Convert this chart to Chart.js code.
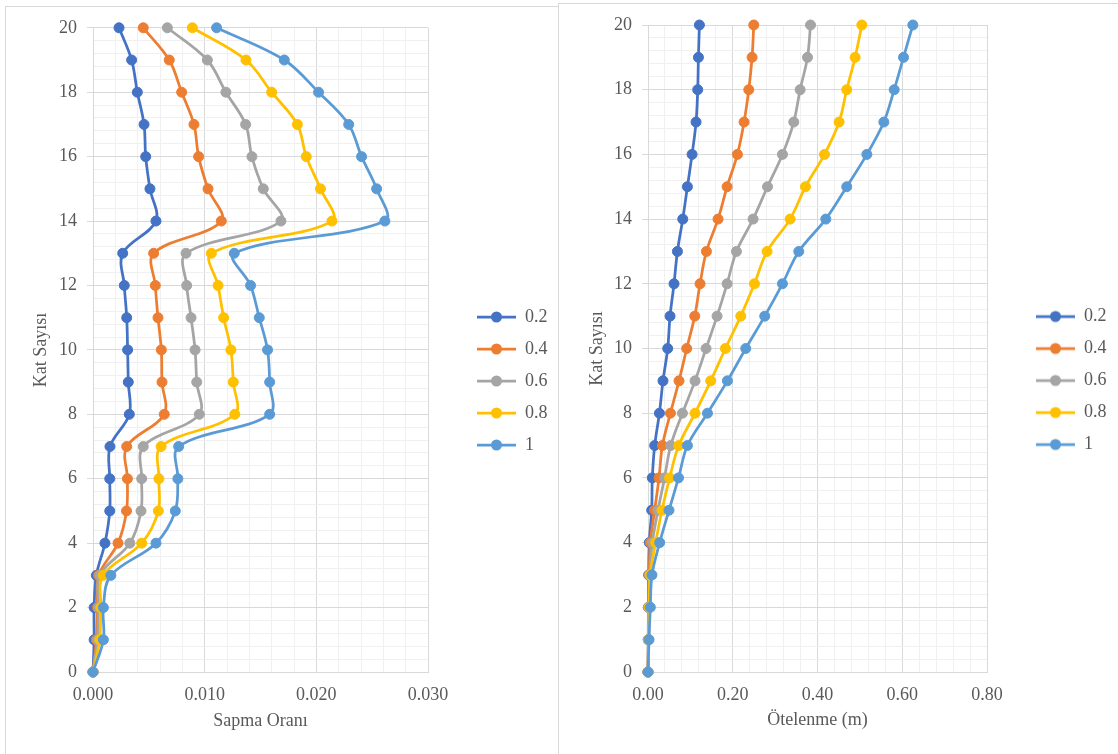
<!DOCTYPE html>
<html lang="tr">
<head>
<meta charset="utf-8">
<title>Sapma Oranı ve Ötelenme</title>
<script src="https://cdn.jsdelivr.net/npm/chart.js@4.4.1/dist/chart.umd.min.js"></script>
<style>
  html, body { margin: 0; padding: 0; background: #fff; }
  body { width: 1118px; height: 754px; position: relative; overflow: hidden; }
  .panel { position: absolute; border: 1px solid #d9d9d9; background: #fff; }
  #panelSol { left: 5px; top: 6px; width: 552px; height: 748px; }
  #panelSag { left: 558px; top: 3px; width: 560px; height: 751px; border-right: none; }
  canvas { display: block; }
</style>
</head>
<body>
<div class="panel" id="panelSol"><canvas id="grafikSapma" width="552" height="748"></canvas></div>
<div class="panel" id="panelSag"><canvas id="grafikOtelenme" width="559" height="750"></canvas></div>

<script>
// Kat numaraları (her iki grafikte y ekseni)
const katlar = [0, 1, 2, 3, 4, 5, 6, 7, 8, 9, 10, 11, 12, 13, 14, 15, 16, 17, 18, 19, 20];
const seriAdlari = ['0.2', '0.4', '0.6', '0.8', '1'];
const renkler = ['#4472C4', '#ED7D31', '#A5A5A5', '#FFC000', '#5B9BD5'];

// Sapma oranı (sol grafik), kat 0 -> 20
const sapma02 = [0, 0.0001, 0.0001, 0.0003, 0.00107, 0.0015, 0.0015, 0.00152, 0.00325, 0.00316, 0.0031, 0.00302, 0.0028, 0.00266, 0.00564, 0.0051, 0.00472, 0.00457, 0.00397, 0.00346, 0.00233];
const sapma04 = [0, 0.0003, 0.0004, 0.0005, 0.00224, 0.003, 0.00308, 0.00302, 0.00638, 0.00618, 0.00612, 0.00582, 0.00558, 0.00543, 0.01149, 0.0103, 0.00946, 0.00904, 0.00794, 0.00683, 0.0045];
const sapma06 = [0, 0.0004, 0.0005, 0.0006, 0.0033, 0.0043, 0.00436, 0.0045, 0.00952, 0.00929, 0.00914, 0.00878, 0.00839, 0.00833, 0.01683, 0.01525, 0.01423, 0.01367, 0.0119, 0.01024, 0.00666];
const sapma08 = [0, 0.0006, 0.0007, 0.0009, 0.00436, 0.00585, 0.0059, 0.0061, 0.0127, 0.01256, 0.01235, 0.0117, 0.0112, 0.0106, 0.0214, 0.02037, 0.0191, 0.0183, 0.016, 0.0137, 0.0089];
const sapma1 = [0, 0.00093, 0.00093, 0.0016, 0.00564, 0.00737, 0.0076, 0.00767, 0.01582, 0.01582, 0.01563, 0.01489, 0.01411, 0.01265, 0.02614, 0.0254, 0.02405, 0.0229, 0.0202, 0.01713, 0.01107];

// Ötelenme, m (sağ grafik), kat 0 -> 20
const otelenme02 = [0, 0.0005, 0.001, 0.0015, 0.003, 0.0087, 0.0102, 0.0158, 0.0269, 0.0354, 0.0465, 0.052, 0.0614, 0.0694, 0.082, 0.093, 0.104, 0.1134, 0.1173, 0.119, 0.1213];
const otelenme04 = [0, 0.001, 0.0015, 0.003, 0.0055, 0.0157, 0.026, 0.034, 0.0529, 0.0732, 0.0914, 0.1103, 0.1228, 0.1379, 0.1653, 0.1866, 0.211, 0.2267, 0.2378, 0.2456, 0.2496];
const otelenme06 = [0, 0.001, 0.002, 0.004, 0.0102, 0.0236, 0.039, 0.0536, 0.0812, 0.111, 0.137, 0.163, 0.1866, 0.2087, 0.248, 0.282, 0.3173, 0.344, 0.359, 0.3764, 0.3835];
const otelenme08 = [0, 0.0015, 0.003, 0.005, 0.018, 0.033, 0.051, 0.0725, 0.111, 0.148, 0.1827, 0.2189, 0.2512, 0.281, 0.3353, 0.3716, 0.4165, 0.451, 0.469, 0.4888, 0.5046];
const otelenme1 = [0, 0.0024, 0.0055, 0.0094, 0.0276, 0.0496, 0.072, 0.093, 0.1403, 0.1874, 0.2307, 0.2755, 0.3173, 0.3558, 0.4196, 0.469, 0.5165, 0.5566, 0.581, 0.603, 0.625];

// Eksen aralıkları: ana çizgi adımı ve ara (minor) çizgi adımı
const katMax = 20, katAnaAdim = 2, katAraAdim = 0.4;
const sapmaMax = 0.03, sapmaAnaAdim = 0.01, sapmaAraAdim = 0.002, sapmaBasamak = 3;
const otelenmeMax = 0.8, otelenmeAnaAdim = 0.2, otelenmeAraAdim = 0.04, otelenmeBasamak = 2;

const yazi = "'Liberation Serif', 'Times New Roman', serif";
const yaziRengi = '#595959';
const anaCizgi = '#d9d9d9';
const araCizgi = '#f0f0f0';

Chart.defaults.font.family = yazi;
Chart.defaults.color = yaziRengi;

// Değer bir ana çizgiye denk geliyor mu?
function anaMi(deger, adim) {
    const oran = deger / adim;
    return Math.abs(oran - Math.round(oran)) < 1e-6;
}

// Lejant için çizgi + nokta simgesi
function lejantSimgesi(renk) {
    const c = document.createElement('canvas');
    c.width = 74;
    c.height = 14;
    const ctx = c.getContext('2d');
    ctx.strokeStyle = renk;
    ctx.lineWidth = 2.75;
    ctx.beginPath();
    ctx.moveTo(35, 7);
    ctx.lineTo(74, 7);
    ctx.stroke();
    ctx.fillStyle = renk;
    ctx.beginPath();
    ctx.arc(54.5, 7, 5.5, 0, Math.PI * 2);
    ctx.fill();
    return c;
}
const simgeler = renkler.map(lejantSimgesi);

// Lejant kutusunun genişliğini sabitle
const lejantGenisligi = {
    id: 'lejantGenisligi',
    beforeLayout(chart, args, opts) {
        const lejant = chart.legend;
        if (lejant && !lejant._sabit) {
            const eskiFit = lejant.fit;
            lejant.fit = function () {
                eskiFit.call(this);
                this.width = opts.genislik;
            };
            lejant._sabit = true;
        }
    }
};

function veriSetleri(seriler) {
    return seriler.map((degerler, i) => ({
        label: seriAdlari[i],
        data: katlar.map((kat, j) => ({ x: degerler[j], y: kat })),
        showLine: true,
        borderColor: renkler[i],
        backgroundColor: renkler[i],
        borderWidth: 2.75,
        pointRadius: 5,
        pointBorderWidth: 1,
        pointBackgroundColor: renkler[i],
        pointBorderColor: renkler[i],
        tension: 0.35,
        clip: false,
        order: seriler.length - i
    }));
}

function grafikOlustur(id, seriler, ayar) {
    const ctx = document.getElementById(id).getContext('2d');
    return new Chart(ctx, {
        type: 'scatter',
        data: { datasets: veriSetleri(seriler) },
        plugins: [lejantGenisligi],
        options: {
            responsive: false,
            animation: false,
            devicePixelRatio: 1,
            events: [],
            layout: { padding: { left: 0, top: ayar.ust, right: ayar.sag, bottom: 18 } },
            plugins: {
                tooltip: { enabled: false },
                lejantGenisligi: { genislik: 130 },
                legend: {
                    position: 'right',
                    labels: {
                        usePointStyle: true,
                        pointStyleWidth: 74,
                        padding: 14,
                        color: yaziRengi,
                        font: { family: yazi, size: 18 },
                        sort: (a, b) => a.datasetIndex - b.datasetIndex,
                        generateLabels(chart) {
                            const ogeler = Chart.defaults.plugins.legend.labels.generateLabels(chart);
                            ogeler.forEach(o => { o.pointStyle = simgeler[o.datasetIndex]; });
                            return ogeler;
                        }
                    }
                }
            },
            scales: {
                x: {
                    type: 'linear',
                    min: 0,
                    max: ayar.xMax,
                    afterFit(scale) { scale.height = ayar.xYukseklik; },
                    ticks: {
                        stepSize: ayar.xAraAdim,
                        maxTicksLimit: 1000,
                        autoSkip: false,
                        maxRotation: 0,
                        padding: 12,
                        color: yaziRengi,
                        font: { family: yazi, size: 18 },
                        callback: v => anaMi(v, ayar.xAnaAdim) ? v.toFixed(ayar.basamak) : ''
                    },
                    grid: {
                        drawTicks: false,
                        color: c => anaMi(c.tick.value, ayar.xAnaAdim) ? anaCizgi : araCizgi
                    },
                    border: { color: anaCizgi },
                    title: {
                        display: true,
                        text: ayar.xBaslik,
                        color: yaziRengi,
                        font: { family: yazi, size: 18 },
                        padding: { top: 0, bottom: 5 }
                    }
                },
                y: {
                    type: 'linear',
                    min: 0,
                    max: katMax,
                    afterFit(scale) { scale.width = ayar.yGenislik; },
                    ticks: {
                        stepSize: katAraAdim,
                        maxTicksLimit: 1000,
                        autoSkip: false,
                        padding: 10,
                        color: yaziRengi,
                        font: { family: yazi, size: 18 },
                        callback: v => anaMi(v, katAnaAdim) ? String(Math.round(v)) : ''
                    },
                    grid: {
                        tickLength: 6,
                        color: c => anaMi(c.tick.value, katAnaAdim) ? anaCizgi : araCizgi,
                        tickColor: c => anaMi(c.tick.value, katAnaAdim) ? anaCizgi : 'rgba(0,0,0,0)'
                    },
                    border: { color: anaCizgi },
                    title: {
                        display: true,
                        text: 'Kat Sayısı',
                        color: yaziRengi,
                        font: { family: yazi, size: 18 },
                        padding: { top: ayar.yBaslikBosluk, bottom: 0 }
                    }
                }
            }
        }
    });
}

grafikOlustur('grafikSapma', [sapma02, sapma04, sapma06, sapma08, sapma1], {
    xMax: sapmaMax, xAnaAdim: sapmaAnaAdim, xAraAdim: sapmaAraAdim, basamak: sapmaBasamak,
    xBaslik: 'Sapma Oranı',
    ust: 18, sag: 0, xYukseklik: 65, yGenislik: 87, yBaslikBosluk: 24
});

grafikOlustur('grafikOtelenme', [otelenme02, otelenme04, otelenme06, otelenme08, otelenme1], {
    xMax: otelenmeMax, xAnaAdim: otelenmeAnaAdim, xAraAdim: otelenmeAraAdim, basamak: otelenmeBasamak,
    xBaslik: 'Ötelenme (m)',
    ust: 21, sag: 1, xYukseklik: 64, yGenislik: 89, yBaslikBosluk: 27
});
</script>
</body>
</html>
